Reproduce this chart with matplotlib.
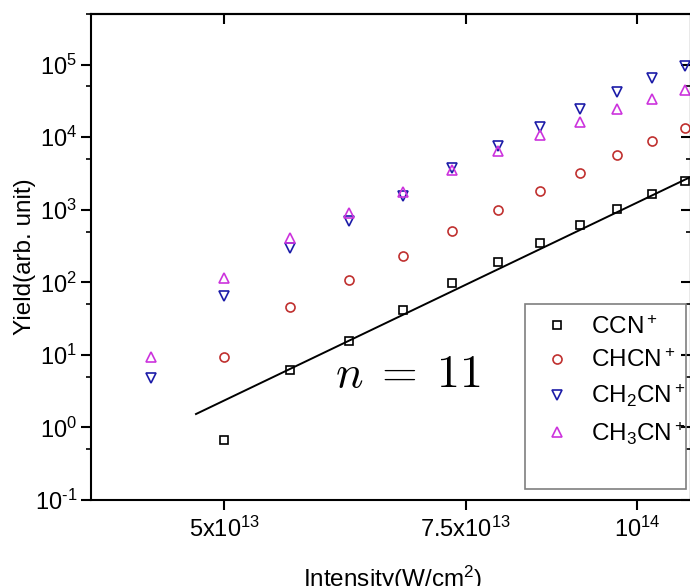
import numpy as np
import matplotlib
matplotlib.use('Agg')
import matplotlib.pyplot as plt
from matplotlib.ticker import LogLocator, NullLocator, NullFormatter, FuncFormatter
from matplotlib.patches import Rectangle

# Arial-like text, mathtext sub/superscripts in the same font
plt.rcParams['font.family'] = 'Liberation Sans'
plt.rcParams['mathtext.fontset'] = 'custom'
plt.rcParams['mathtext.rm'] = 'Liberation Sans'
plt.rcParams['mathtext.it'] = 'Liberation Sans:italic'
plt.rcParams['mathtext.bf'] = 'Liberation Sans:bold'
plt.rcParams['mathtext.default'] = 'regular'
plt.rcParams['axes.unicode_minus'] = False

# Laser intensity (W/cm^2)
intensity = np.array([4.42, 5.0, 5.58, 6.17, 6.75, 7.33, 7.92, 8.5, 9.08, 9.67, 10.25, 10.83]) * 1e13

# Ion yields (arb. unit); CCN+ and CHCN+ start at the second intensity
ccn_yield = [0.67, 6.2, 15.6, 42, 98, 192, 351, 620, 1030, 1660, 2510]
chcn_yield = [9.2, 45.5, 108, 232, 513, 977, 1830, 3240, 5610, 8870, 13500]
ch2cn_yield = [4.8, 64, 296, 690, 1525, 3760, 7460, 13800, 24500, 42000, 64700, 94800]
ch3cn_yield = [9.2, 114, 407, 900, 1754, 3485, 6370, 10820, 16200, 24500, 34000, 45200]

# Power-law fit line through CCN+
fit_intensity = [4.77e13, 1.094e14]
fit_yield = [1.53, 2850]

labels = ['CCN$^+$', 'CHCN$^+$', 'CH$_2$CN$^+$', 'CH$_3$CN$^+$']
colors = ['black', '#c0302f', '#1c1ca8', '#cc33dd']

xticks = [5e13, 7.5e13, 1e14]
xtick_labels = ['5x10$^{13}$', '7.5x10$^{13}$', '10$^{14}$']


def decade_label(v, pos):
    # 10^n labels with a plain hyphen for negative powers
    p = int(round(np.log10(v)))
    if p < 0:
        return r'10$^{\text{-}%d}$' % (-p)
    return r'10$^{%d}$' % p


fig = plt.figure(figsize=(6.9, 5.86), dpi=100)
ax = fig.add_axes([0.1319, 0.1468, 0.8695, 0.8294])

ax.plot(intensity[1:], ccn_yield, ls='none', marker='s', ms=5.8, mfc='none',
        mec=colors[0], mew=1.2, label=labels[0])
ax.plot(intensity[1:], chcn_yield, ls='none', marker='o', ms=6.5, mfc='none',
        mec=colors[1], mew=1.2, label=labels[1])
ax.plot(intensity, ch2cn_yield, ls='none', marker='v', ms=7.5, mfc='none',
        mec=colors[2], mew=1.2, label=labels[2])
ax.plot(intensity, ch3cn_yield, ls='none', marker='^', ms=7.5, mfc='none',
        mec=colors[3], mew=1.2, label=labels[3])
ax.plot(fit_intensity, fit_yield, color='black', lw=1.4)

ax.text(0.528, 0.257, r'$\mathit{n}\;\mathrm{=}\;\mathrm{11}$', transform=ax.transAxes,
        fontsize=33, math_fontfamily='cm', ha='center', va='center')

# Axes scales and limits
ax.set_xscale('log')
ax.set_yscale('log')
ax.set_xlim(4e13, 1.094e14)
ax.set_ylim(0.1, 5e5)

ax.set_xticks(xticks, labels=xtick_labels)
ax.xaxis.set_minor_locator(NullLocator())
ax.xaxis.set_minor_formatter(NullFormatter())
ax.yaxis.set_major_locator(LogLocator(base=10, numticks=20))
ax.yaxis.set_major_formatter(FuncFormatter(decade_label))
ax.yaxis.set_minor_locator(LogLocator(base=10, subs=[5.0], numticks=20))
ax.yaxis.set_minor_formatter(NullFormatter())

ax.tick_params(which='major', direction='out', length=7, width=1.5, labelsize=17)
ax.tick_params(axis='x', which='major', pad=5)
ax.tick_params(axis='y', which='major', pad=3)
ax.tick_params(which='minor', direction='out', length=3.6, width=1.2)
for sp in ax.spines.values():
    sp.set_linewidth(1.5)

# Mirror ticks pointing inward on top and right
top = ax.secondary_xaxis('top')
top.set_xticks(xticks)
top.xaxis.set_minor_locator(NullLocator())
top.tick_params(which='major', direction='in', length=7, width=1.5, labeltop=False)
top.spines['top'].set_linewidth(1.5)

right = ax.secondary_yaxis('right')
right.yaxis.set_major_locator(LogLocator(base=10, numticks=20))
right.yaxis.set_minor_locator(LogLocator(base=10, subs=[5.0], numticks=20))
right.tick_params(which='major', direction='in', length=7, width=1.5, labelright=False)
right.tick_params(which='minor', direction='in', length=3.6, width=1.2, labelright=False)
right.spines['right'].set_linewidth(1.5)

ax.set_xlabel('Intensity(W/cm$^2$)', fontsize=17.5)
ax.xaxis.set_label_coords(0.502, -0.1317)
ax.set_ylabel('Yield(arb. unit)', fontsize=17.5)
ax.yaxis.set_label_coords(-0.0917, 0.5)

# Legend without its own frame, plus a taller grey box behind it
ax.legend(loc='upper left', bbox_to_anchor=(0.756, 0.379), frameon=False,
          fontsize=17.5, handlelength=1.0, handletextpad=0.9, borderpad=0,
          borderaxespad=0, labelspacing=0.43, markerscale=1.0)
ax.add_patch(Rectangle((0.7233, 0.022), 0.2677, 0.3807, transform=ax.transAxes,
                       fill=False, edgecolor='#7f7f7f', lw=1.2, zorder=4))

plt.savefig('out.png', dpi=100)
